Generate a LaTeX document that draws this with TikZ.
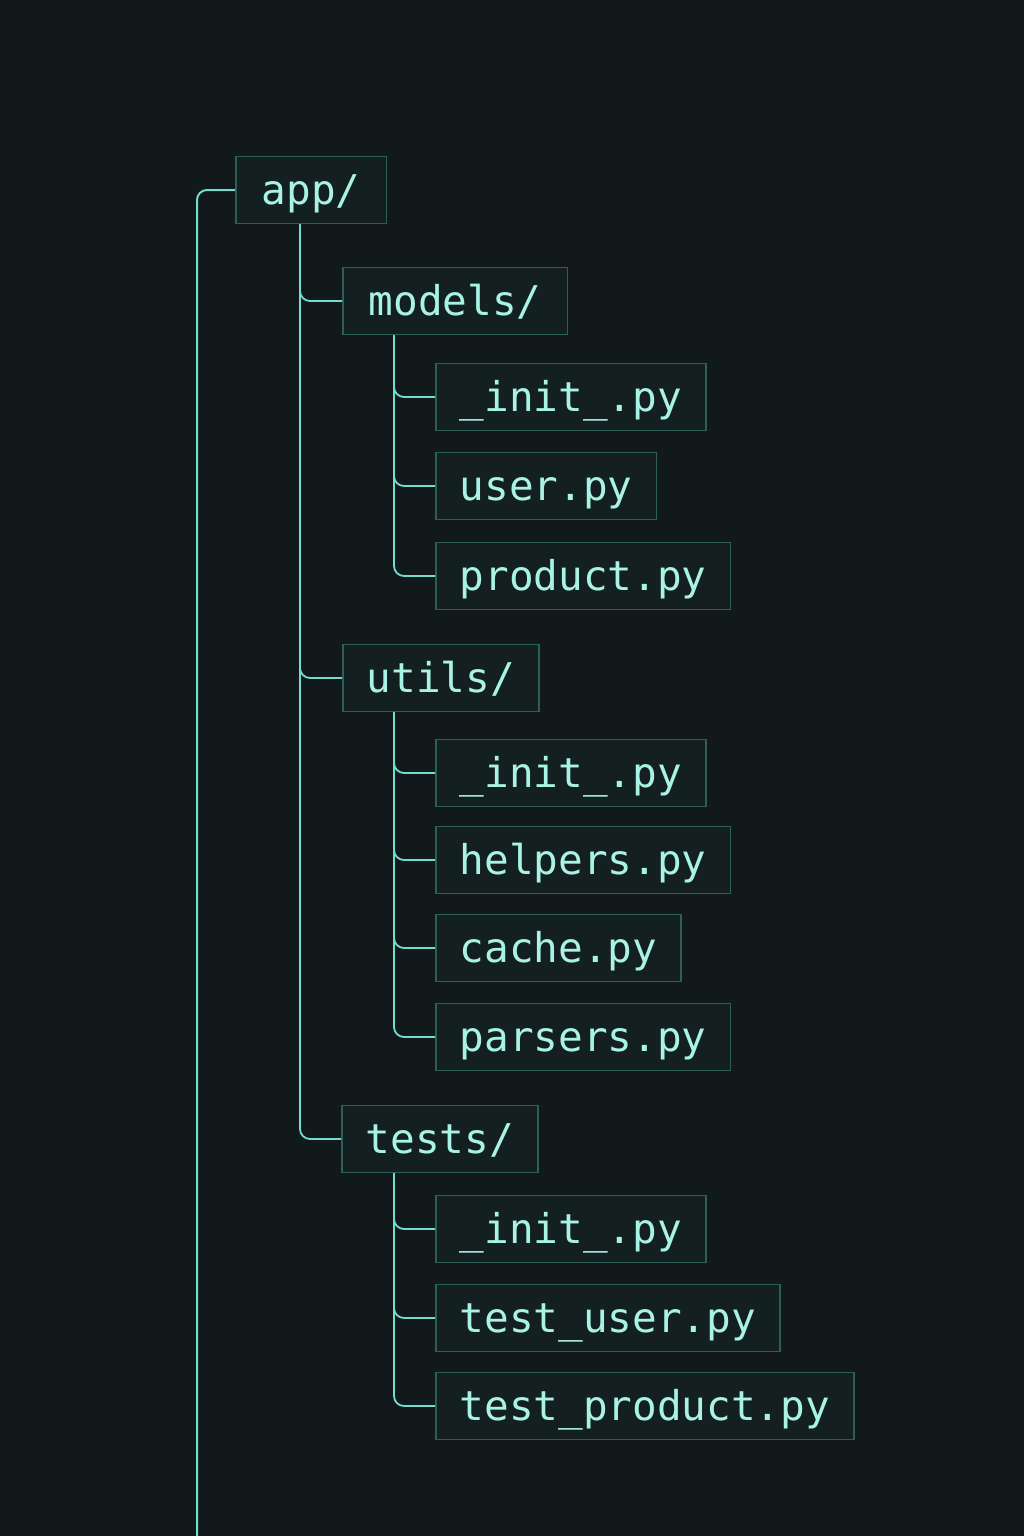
\documentclass[tikz,border=0pt]{standalone}
\usepackage{fontspec}
\setmonofont{DejaVu Sans Mono}
\definecolor{bg}{HTML}{12191B}
\definecolor{boxfill}{HTML}{14201F}
\definecolor{boxc}{HTML}{2E5E58}
\definecolor{linec}{HTML}{74DCCB}
\definecolor{txt}{HTML}{A8F3E4}
\begin{document}
\begin{tikzpicture}[x=0.5pt,y=-0.5pt,
  item/.style={draw=boxc, line width=0.8pt, fill=boxfill, anchor=west,
    inner xsep=12pt, inner ysep=0pt, minimum height=33.5pt,
    text height=16.5pt, text depth=2.5pt,
    font=\fontsize{20.5}{24}\selectfont\ttfamily, text=txt},
  wire/.style={draw=linec, line width=0.9pt, rounded corners=5pt}]
\fill[bg] (0,0) rectangle (1024,1536);
\useasboundingbox (0,0) rectangle (1024,1536);

\node[item, inner xsep=13pt] (app) at (235,190) {app/};
\node[item, inner xsep=13pt] (models) at (342,301) {models/};
\node[item] (mi) at (435,397) {\_init\_.py};
\node[item] (user) at (435,486) {user.py};
\node[item] (product) at (435,576) {product.py};
\node[item] (utils) at (342,678) {utils/};
\node[item] (ui) at (435,773) {\_init\_.py};
\node[item] (helpers) at (435,860) {helpers.py};
\node[item] (cache) at (435,948) {cache.py};
\node[item] (parsers) at (435,1037) {parsers.py};
\node[item] (tests) at (341,1139) {tests/};
\node[item] (ti) at (435,1229) {\_init\_.py};
\node[item] (tuser) at (435,1318) {test\_user.py};
\node[item] (tproduct) at (435,1406) {test\_product.py};

\coordinate (rootend) at (197,1536);
\draw[wire, line width=1pt] (rootend) |- (app.west);

\foreach \c in {models,utils,tests}
  \draw[wire] ([xshift=32.5pt]app.south west) |- (\c.west);
\foreach \c in {mi,user,product}
  \draw[wire] ([xshift=26pt]models.south west) |- (\c.west);
\foreach \c in {ui,helpers,cache,parsers}
  \draw[wire] ([xshift=26pt]utils.south west) |- (\c.west);
\foreach \c in {ti,tuser,tproduct}
  \draw[wire] ([xshift=26.5pt]tests.south west) |- (\c.west);
\end{tikzpicture}
\end{document}
